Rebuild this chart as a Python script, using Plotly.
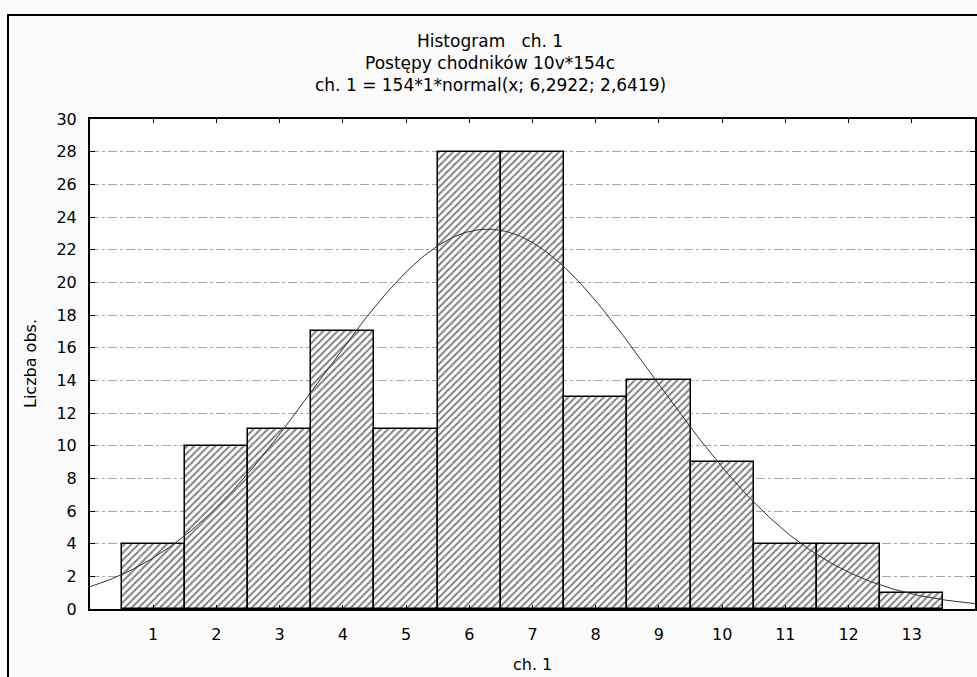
import numpy as np
import plotly.graph_objects as go

# Data
categories = [1, 2, 3, 4, 5, 6, 7, 8, 9, 10, 11, 12, 13]
counts = [4, 10, 11, 17, 11, 28, 28, 13, 14, 9, 4, 4, 1]
n_obs = 154
bin_width = 1
fit_mean = 6.2922
fit_sd = 2.6419
y_ticks = list(range(0, 31, 2))

title_lines = [
    "Histogram   ch. 1",
    "Postępy chodników 10v*154c",
    "ch. 1 = 154*1*normal(x; 6,2922; 2,6419)",
]

# Fitted normal curve as defined in the chart's title
xc = np.linspace(0, 14, 400)
yc = n_obs * bin_width * np.exp(-0.5 * ((xc - fit_mean) / fit_sd) ** 2) / (fit_sd * np.sqrt(2 * np.pi))

FONT = "DejaVu Sans"

fig = go.Figure()
fig.add_trace(go.Bar(
    x=categories, y=counts, width=1,
    marker=dict(color="white",
                line=dict(color="black", width=1.5),
                pattern=dict(shape="/", fgcolor="black", bgcolor="white", size=5, solidity=0.4)),
    showlegend=False, hoverinfo="x+y",
))
fig.add_trace(go.Scatter(
    x=xc, y=yc, mode="lines", line=dict(color="#333333", width=1),
    showlegend=False,
))

L, R, T, B = 90, 2, 119, 68
W, H = 977, 677
pw, ph = W - L - R, H - T - B

def px_x(p):
    return (p - L) / pw

def px_y(p):
    return (H - B - p) / ph

annotations = []
for txt, yp in zip(title_lines, [41, 63, 85]):
    annotations.append(dict(text=txt, xref="paper", yref="paper", x=px_x(490), y=px_y(yp),
                            xanchor="center", yanchor="middle", showarrow=False,
                            font=dict(family=FONT, size=17, color="black")))
annotations.append(dict(text="ch. 1", xref="paper", yref="paper", x=0.5, y=px_y(664),
                        xanchor="center", yanchor="middle", showarrow=False,
                        font=dict(family=FONT, size=16, color="black")))
annotations.append(dict(text="Liczba obs.", xref="paper", yref="paper", x=px_x(30), y=0.5,
                        xanchor="center", yanchor="middle", showarrow=False, textangle=-90,
                        font=dict(family=FONT, size=16, color="black")))

fig.update_layout(
    width=W, height=H,
    margin=dict(l=L, r=R, t=T, b=B, autoexpand=False),
    paper_bgcolor="#fbfbfb", plot_bgcolor="white",
    bargap=0,
    font=dict(family=FONT, size=16, color="black"),
    annotations=annotations,
    shapes=[dict(type="rect", xref="paper", yref="paper",
                 x0=px_x(8), x1=px_x(990), y0=px_y(700), y1=px_y(15),
                 line=dict(color="black", width=2), layer="below")],
)
fig.update_xaxes(range=[0, 14], tickvals=categories, ticks="inside", ticklen=4,
                 tickcolor="black", showline=True, linecolor="black", linewidth=2,
                 mirror="ticks", showgrid=False, zeroline=False, ticklabelstandoff=10)
fig.update_yaxes(range=[0, 30], tickvals=y_ticks, ticks="inside", ticklen=5,
                 tickcolor="black", showline=True, linecolor="black", linewidth=2,
                 mirror="ticks", showgrid=True, gridcolor="#a8a8a8", griddash="dashdot",
                 gridwidth=1, zeroline=False, ticklabelstandoff=8)

fig.write_html("out.html", config={"displayModeBar": False})
with open("out.html", "r", encoding="utf-8") as f:
    html = f.read()
html = html.replace("<body>", '<body style="margin:0;padding:0;overflow:hidden">', 1)
with open("out.html", "w", encoding="utf-8") as f:
    f.write(html)
